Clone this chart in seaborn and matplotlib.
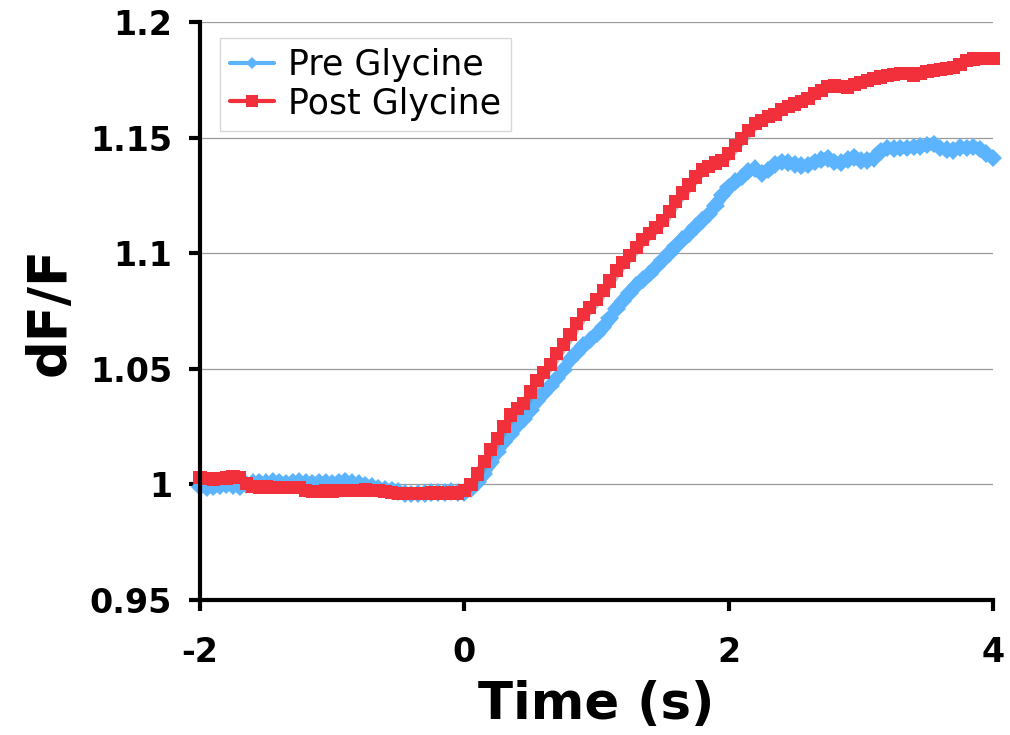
import numpy as np
import pandas as pd
import matplotlib
matplotlib.use("Agg")
import matplotlib.pyplot as plt
import matplotlib.patheffects as pe
from matplotlib.ticker import FuncFormatter, FixedLocator
from matplotlib.lines import Line2D
import seaborn as sns

# ---------------- data ----------------
time_s = np.round(np.arange(-2.0, 4.0001, 0.05), 2)

post_glycine = [
    1.0030, 1.0025, 1.0022, 1.0024, 1.0028, 1.0032, 1.0030, 1.0005, 0.9990, 0.9988,
    0.9990, 0.9988, 0.9986, 0.9988, 0.9987, 0.9985, 0.9975, 0.9968, 0.9970, 0.9972,
    0.9970, 0.9972, 0.9973, 0.9972, 0.9975, 0.9978, 0.9975, 0.9972, 0.9970, 0.9966,
    0.9962, 0.9960, 0.9960, 0.9962, 0.9960, 0.9963, 0.9964, 0.9962, 0.9965, 0.9963,
    0.9972, 1.0000, 1.0045, 1.0100, 1.0150, 1.0200, 1.0250, 1.0300, 1.0330, 1.0350,
    1.0400, 1.0450, 1.0485, 1.0520, 1.0565, 1.0605, 1.0650, 1.0695, 1.0735, 1.0765,
    1.0800, 1.0840, 1.0880, 1.0925, 1.0960, 1.0990, 1.1025, 1.1058, 1.1085, 1.1110,
    1.1140, 1.1180, 1.1225, 1.1260, 1.1295, 1.1330, 1.1360, 1.1375, 1.1390, 1.1400,
    1.1430, 1.1465, 1.1495, 1.1530, 1.1560, 1.1575, 1.1590, 1.1600, 1.1620, 1.1635,
    1.1645, 1.1655, 1.1670, 1.1690, 1.1705, 1.1720, 1.1727, 1.1720, 1.1715, 1.1728,
    1.1740, 1.1748, 1.1755, 1.1762, 1.1768, 1.1772, 1.1778, 1.1776, 1.1770, 1.1778,
    1.1785, 1.1790, 1.1793, 1.1798, 1.1803, 1.1815, 1.1833, 1.1840, 1.1842, 1.1843,
    1.1843,
]

pre_glycine = [
    0.9990, 0.9988, 0.9990, 0.9995, 0.9998, 0.9995, 0.9990, 1.0000, 1.0008, 1.0010,
    1.0008, 1.0012, 1.0010, 1.0006, 1.0010, 1.0012, 1.0008, 1.0005, 1.0010, 1.0008,
    1.0005, 1.0010, 1.0015, 1.0008, 1.0003, 0.9998, 0.9990, 0.9985, 0.9980, 0.9975,
    0.9968, 0.9960, 0.9958, 0.9960, 0.9962, 0.9964, 0.9965, 0.9966, 0.9968, 0.9966,
    0.9965, 0.9980, 1.0010, 1.0045, 1.0095, 1.0140, 1.0185, 1.0220, 1.0255, 1.0285,
    1.0320, 1.0360, 1.0395, 1.0425, 1.0460, 1.0495, 1.0540, 1.0570, 1.0600, 1.0625,
    1.0650, 1.0680, 1.0718, 1.0760, 1.0795, 1.0830, 1.0860, 1.0885, 1.0910, 1.0940,
    1.0970, 1.1000, 1.1030, 1.1058, 1.1085, 1.1115, 1.1142, 1.1170, 1.1205, 1.1250,
    1.1285, 1.1310, 1.1330, 1.1355, 1.1365, 1.1345, 1.1360, 1.1385, 1.1395, 1.1392,
    1.1385, 1.1378, 1.1382, 1.1395, 1.1405, 1.1410, 1.1395, 1.1392, 1.1405, 1.1415,
    1.1400, 1.1402, 1.1410, 1.1440, 1.1455, 1.1452, 1.1455, 1.1455, 1.1460, 1.1462,
    1.1468, 1.1472, 1.1455, 1.1448, 1.1445, 1.1458, 1.1455, 1.1460, 1.1450, 1.1430,
    1.1412,
]

series_names = ["Pre Glycine", "Post Glycine"]
x_ticks = [-2, 0, 2, 4]
y_ticks = [0.95, 1.0, 1.05, 1.1, 1.15, 1.2]

df = pd.concat([
    pd.DataFrame({"Time": time_s, "dF/F": pre_glycine, "Series": series_names[0]}),
    pd.DataFrame({"Time": time_s, "dF/F": post_glycine, "Series": series_names[1]}),
], ignore_index=True)

# ---------------- style ----------------
sns.set_style("white")
plt.rcParams["font.family"] = ["DejaVu Sans"]
plt.rcParams["text.color"] = "black"
plt.rcParams["axes.labelcolor"] = "black"
plt.rcParams["xtick.color"] = "black"
plt.rcParams["ytick.color"] = "black"

blue = "#5BB4FD"
red = "#F2303B"

fig = plt.figure(figsize=(10.10, 7.35), dpi=100)
ax = fig.add_axes([200 / 1010, 1 - 600 / 735, 793 / 1010, 578 / 735])

for y in y_ticks[1:]:
    ax.axhline(y, color="#9a9a9a", lw=0.9, zorder=0)

sns.lineplot(
    data=df, x="Time", y="dF/F", hue="Series", style="Series",
    hue_order=series_names, style_order=series_names,
    palette={series_names[0]: blue, series_names[1]: red},
    markers={series_names[0]: "D", series_names[1]: "s"},
    dashes=False, linewidth=5, markersize=9.5, markeredgewidth=0,
    ax=ax, legend=False, zorder=3,
)

shadow = [pe.SimpleLineShadow(offset=(1.2, -1.5), shadow_color="#7f7f7f", alpha=0.55),
          pe.Normal()]
for ln in ax.lines[-2:]:
    ln.set_clip_on(False)
    ln.set_path_effects(shadow)

ax.set_xlim(-2, 4)
ax.set_ylim(0.95, 1.2)
ax.xaxis.set_major_locator(FixedLocator(x_ticks))
ax.yaxis.set_major_locator(FixedLocator(y_ticks))
ax.yaxis.set_major_formatter(FuncFormatter(lambda v, p: f"{v:g}"))
ax.xaxis.set_major_formatter(FuncFormatter(lambda v, p: f"{v:g}"))

for s in ["top", "right"]:
    ax.spines[s].set_visible(False)
for s in ["left", "bottom"]:
    ax.spines[s].set_linewidth(3)
    ax.spines[s].set_color("black")
    ax.spines[s].set_zorder(4)

ax.tick_params(axis="both", direction="out", length=8, width=3, color="black",
               labelsize=24, bottom=True, left=True, labelcolor="black")
ax.tick_params(axis="y", pad=12)
ax.tick_params(axis="x", pad=18)
for lab in ax.get_xticklabels() + ax.get_yticklabels():
    lab.set_fontweight("bold")

ax.set_xlabel("Time (s)", fontsize=37, fontweight="bold", labelpad=8)
ax.set_ylabel("dF/F", fontsize=38, fontweight="bold", labelpad=10)

handles = [
    Line2D([], [], color=blue, marker="D", markersize=6, markeredgewidth=0, lw=3),
    Line2D([], [], color=red, marker="s", markersize=8, markeredgewidth=0, lw=3),
]
leg = ax.legend(handles, series_names, loc="upper left",
                bbox_to_anchor=(20 / 793, 1 - 16 / 578), borderaxespad=0,
                fontsize=25, frameon=True, fancybox=False, edgecolor="#d8d8d8",
                framealpha=1, handlelength=1.25, handletextpad=0.4,
                labelspacing=0.12, borderpad=0.3)
leg.get_frame().set_linewidth(1)

fig.savefig("out.png", dpi=100)
